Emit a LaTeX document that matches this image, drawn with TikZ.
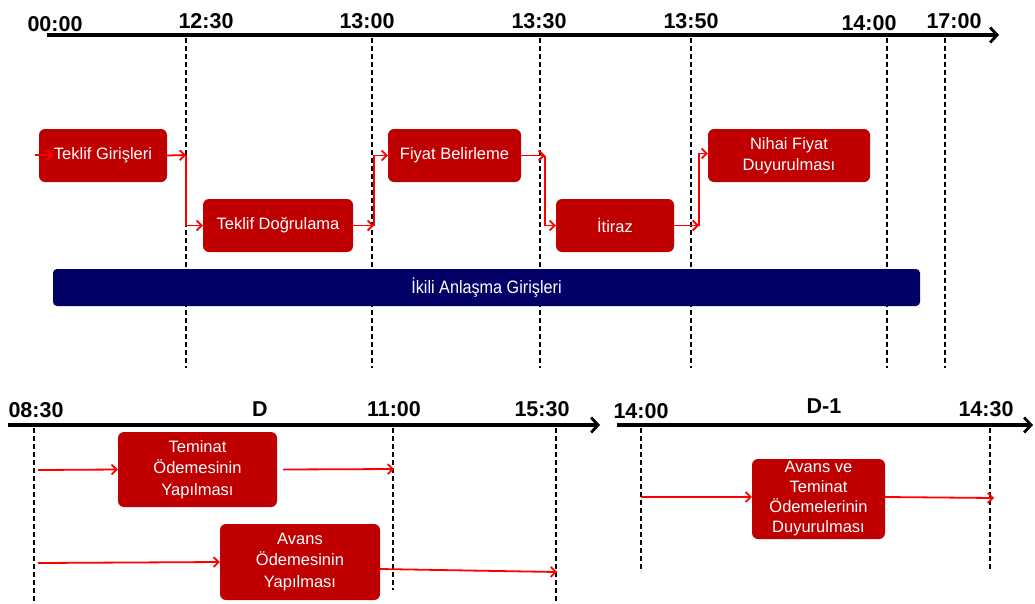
\documentclass[tikz,border=0pt]{standalone}
\usepackage{fontspec}
\setmainfont{Liberation Sans}
\usetikzlibrary{arrows.meta}
\definecolor{boxred}{HTML}{C00000}
\definecolor{navyblue}{HTML}{000066}
\definecolor{arrred}{HTML}{FF0000}
\begin{document}
\begin{tikzpicture}[x=1pt,y=-1pt,
  axisline/.style={line width=3.2pt,-{Straight Barb[length=7pt,width=15pt,line width=2.8pt]}},
  guide/.style={line width=1.5pt,dash pattern=on 5pt off 3pt},
  stepbox/.style={fill=boxred,rounded corners=6pt,text=white,font=\fontsize{16.5}{21.5}\selectfont,align=center,inner sep=0pt},
  flow/.style={arrred,line width=1.8pt,-{Straight Barb[length=5pt,width=10pt,line width=1.8pt]}},
  tlabel/.style={font=\bfseries\fontsize{21.5}{24}\selectfont,anchor=base,inner sep=0pt}]
\useasboundingbox (0,0) rectangle (1035,603);

% top axis
\coordinate (ta0) at (47,35);
\coordinate (ta1) at (999,35);
\draw[axisline] (ta0) -- (ta1);
\node[tlabel] (l0) at (55,31) {00:00};
\node[tlabel] (l1) at (206,28) {12:30};
\node[tlabel] (l2) at (367,28) {13:00};
\node[tlabel] (l3) at (539,28) {13:30};
\node[tlabel] (l4) at (691,28) {13:50};
\node[tlabel] (l5) at (869,30) {14:00};
\node[tlabel] (l6) at (954,28) {17:00};

% top guides
\foreach \n/\x in {g1/186,g2/372,g3/540,g4/691,g5/887,g6/945}{
  \coordinate (\n t) at (\x,38);
  \coordinate (\n b) at (\x,368);
  \draw[guide] (\n t) -- (\n b);
}

% top boxes
\node[stepbox,minimum width=128pt,minimum height=53pt] (tg) at (103,155.5) {Teklif Girişleri};
\node[stepbox,minimum width=150pt,minimum height=53pt] (td) at (278,225.5) {Teklif Doğrulama};
\node[stepbox,minimum width=133pt,minimum height=53pt] (fb) at (454.5,155.5) {Fiyat Belirleme};
\node[stepbox,minimum width=118pt,minimum height=53pt] (it) at (615,225.5) {İtiraz};
\node[stepbox,minimum width=162pt,minimum height=53pt,font=\fontsize{16.5}{21}\selectfont] (nf) at (789,155.5) {Nihai Fiyat\\Duyurulması};
\node[fill=navyblue,rounded corners=4pt,text=white,inner sep=0pt,minimum width=867pt,minimum height=37pt,font=\fontsize{18}{20}\selectfont] (ik) at (486.5,287.5) {\scalebox{0.9}[1]{İkili Anlaşma Girişleri}};

% top flow
\coordinate (s0) at (35,155);
\coordinate (s0e) at (53,155);
\draw[flow] (s0) -- (s0e);
\coordinate (j1) at (186,155);
\draw[flow] (tg.east) -- (j1);
\draw[flow] (j1) |- (td.west);
\coordinate (j2) at (374,225.5);
\draw[flow] (td.east) -- (j2);
\draw[flow] (j2) |- (fb.west);
\coordinate (j3) at (545,155.5);
\draw[flow] (fb.east) -- (j3);
\draw[flow] (j3) |- (it.west);
\coordinate (j4) at (699,225.5);
\draw[flow] (it.east) -- (j4);
\draw[flow] (j4) |- ([yshift=2pt]nf.west);

% bottom-left axis
\coordinate (ba0) at (8,425);
\coordinate (ba1) at (600,425);
\draw[axisline] (ba0) -- (ba1);
\node[tlabel] (m0) at (36,417) {08:30};
\node[tlabel] (m1) at (260,416) {D};
\node[tlabel] (m2) at (394,416) {11:00};
\node[tlabel] (m3) at (542,416) {15:30};
\foreach \n/\x/\y in {h1/34/603,h2/393/590,h3/556/603}{
  \coordinate (\n t) at (\x,428);
  \coordinate (\n b) at (\x,\y);
  \draw[guide] (\n t) -- (\n b);
}
\node[stepbox,minimum width=159pt,minimum height=75pt] (tm) at (197.5,469.5) {Teminat\\Ödemesinin\\Yapılması};
\node[stepbox,minimum width=160pt,minimum height=76pt] (av) at (300,562) {Avans\\Ödemesinin\\Yapılması};
\coordinate (b1) at (38,470);
\draw[flow] (b1) -- (tm.west);
\coordinate (b2) at (394,469);
\draw[flow] ([xshift=6pt]tm.east) -- (b2);
\coordinate (b3) at (38,563);
\draw[flow] (b3) -- (av.west);
\coordinate (b4) at (557,572);
\draw[flow] ([yshift=-7pt]av.east) -- (b4);

% bottom-right axis
\coordinate (ca0) at (617,425);
\coordinate (ca1) at (1033,425);
\draw[axisline] (ca0) -- (ca1);
\node[tlabel] (n0) at (641,418) {14:00};
\node[tlabel] (n1) at (824,413) {D-1};
\node[tlabel] (n2) at (986,416) {14:30};
\foreach \n/\x in {k1/641,k2/990}{
  \coordinate (\n t) at (\x,428);
  \coordinate (\n b) at (\x,572);
  \draw[guide] (\n t) -- (\n b);
}
\node[stepbox,minimum width=133pt,minimum height=80pt,font=\fontsize{16.5}{20}\selectfont] (at) at (818.5,499) {Avans ve\\Teminat\\Ödemelerinin\\Duyurulması};
\coordinate (b5) at (641,497);
\draw[flow] (b5) -- ([yshift=2pt]at.west);
\coordinate (b6) at (994,498);
\draw[flow] ([yshift=2pt]at.east) -- (b6);
\end{tikzpicture}
\end{document}
